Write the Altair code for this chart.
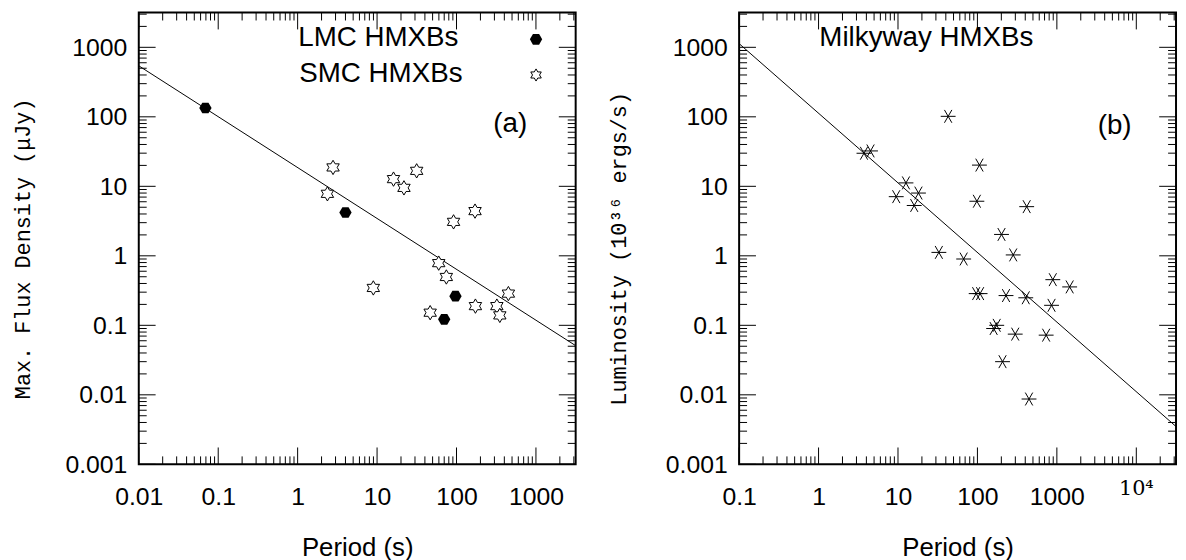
import math
import altair as alt
import pandas as pd

# ---------------- data ----------------
# panel (a)
lmc_period = [0.069, 4.0, 97.0, 70.0]
lmc_flux = [134.0, 4.2, 0.263, 0.122]
smc_period = [2.79, 2.37, 16.1, 21.8, 31.5, 91.8, 171.0, 59.7, 74.5, 8.97,
              46.6, 173.0, 322.0, 351.0, 450.0]
smc_flux = [18.7, 7.8, 12.7, 9.5, 16.7, 3.08, 4.4, 0.785, 0.496, 0.345,
            0.152, 0.189, 0.189, 0.139, 0.286]
fit_a_period = [0.01, 3162.3]
fit_a_flux = [542.0, 0.051]

# panel (b)
mw_period = [3.73, 4.51, 9.5, 12.6, 16.0, 18.1, 42.8, 106.0, 98.4, 417.0,
             201.0, 32.7, 67.1, 282.0, 889.0, 1449.0, 96.4, 108.0, 229.0, 406.0,
             857.0, 160.0, 175.0, 299.0, 733.0, 207.0, 446.0]
mw_lum = [29.9, 32.3, 7.1, 11.2, 5.3, 8.0, 101.6, 20.2, 6.1, 5.1,
          2.03, 1.12, 0.90, 1.03, 0.454, 0.357, 0.286, 0.286, 0.268, 0.249,
          0.194, 0.090, 0.100, 0.0747, 0.0722, 0.030, 0.0087]
fit_b_period = [0.1, 31622.8]
fit_b_lum = [1130.0, 0.0035]

# axes
x_labels_a = [0.01, 0.1, 1, 10, 100, 1000]
x_labels_b = [0.1, 1, 10, 100, 1000]
x_label_b_power = [10000]
y_labels = [0.001, 0.01, 0.1, 1, 10, 100, 1000]
x_domain_a = [0.01, 3162.3]
x_domain_b = [0.1, 31622.8]
y_domain = [0.001, 3162.3]

legend_names = ["LMC HMXBs", "SMC HMXBs"]
panel_tags = ["(a)", "(b)"]
mw_name = ["Milkyway HMXBs"]

# ---------------- styling ----------------
W, H = 441, 456
MAJ, MINR = 17, 8
SANS = "Liberation Sans"
TT = "Liberation Mono"
LABEL_SIZE = 25
TEXT_SIZE = 28

HEX = "M-1,0L-0.5,-0.866L0.5,-0.866L1,0L0.5,0.866L-0.5,0.866Z"
pts = []
for k in range(12):
    ang = math.radians(-90 + 30 * k)
    r = 1.0 if k % 2 == 0 else 1 / math.sqrt(3)
    pts.append((r * math.cos(ang), r * math.sin(ang)))
STAR = "M" + "L".join(f"{x:.3f},{y:.3f}" for x, y in pts) + "Z"
AST = "M-1,0L1,0M-0.5,-0.866L0.5,0.866M-0.5,0.866L0.5,-0.866"


def decade_ticks(lo, hi):
    majors, minors = [], []
    e = round(math.log10(lo))
    while 10.0 ** e <= hi * 1.0001:
        majors.append(10.0 ** e)
        for m in range(2, 10):
            v = m * 10.0 ** e
            if v <= hi * 1.0001:
                minors.append(v)
        e += 1
    return majors, minors


def x_axis(values):
    return alt.Axis(values=values, format="~g", labelFont=SANS, labelFontSize=LABEL_SIZE,
                    labelColor="black", ticks=False, tickSize=0, domain=False, grid=False,
                    labelPadding=33, labelBaseline="middle", labelFlush=False,
                    labelOverlap=False, title="Period (s)", titleFont=SANS,
                    titleFontSize=26, titleFontWeight="normal", titleColor="black",
                    titleY=84, titleBaseline="middle")


def y_axis(title, tx):
    return alt.Axis(values=y_labels, format="~g", labelFont=SANS, labelFontSize=LABEL_SIZE,
                    labelColor="black", ticks=False, tickSize=0, domain=False, grid=False,
                    labelPadding=12, labelFlush=False, labelOverlap=False,
                    title=title, titleFont=TT, titleFontSize=22, titleFontWeight="normal",
                    titleColor="black", titleX=tx, titleY=238, titleBaseline="middle")


def tick_layers(xdom, ydom, xscale, yscale, xa, ya):
    xmaj, xmin = decade_ticks(*xdom)
    ymaj, ymin = decade_ticks(*ydom)
    layers = []
    for vals, L in ((xmaj, MAJ), (xmin, MINR)):
        src = alt.Chart(pd.DataFrame({"period": vals})).mark_rule(color="black", strokeWidth=1)
        xe = alt.X("period:Q", scale=xscale, axis=xa)
        layers.append(src.encode(x=xe, y=alt.value(H), y2=alt.value(H - L)))
        layers.append(src.encode(x=xe, y=alt.value(0), y2=alt.value(L)))
    for vals, L in ((ymaj, MAJ), (ymin, MINR)):
        src = alt.Chart(pd.DataFrame({"val": vals})).mark_rule(color="black", strokeWidth=1)
        ye = alt.Y("val:Q", scale=yscale, axis=ya)
        layers.append(src.encode(y=ye, x=alt.value(0), x2=alt.value(L)))
        layers.append(src.encode(y=ye, x=alt.value(W), x2=alt.value(W - L)))
    return layers


def text_mark(s, x, y, align="left", baseline="alphabetic", size=TEXT_SIZE):
    return alt.Chart(pd.DataFrame({"t": [s]})).mark_text(
        font=SANS, fontSize=size, align=align, baseline=baseline, color="black"
    ).encode(text="t:N", x=alt.value(x), y=alt.value(y))


# ---------------- panel (a) ----------------
xs_a = alt.Scale(type="log", domain=x_domain_a, nice=False)
ys = alt.Scale(type="log", domain=y_domain, nice=False)
xa_a = x_axis(x_labels_a)
ya_a = y_axis("Max. Flux Density (μJy)", -117.5)

def enc_a():
    return dict(x=alt.X("period:Q", scale=xs_a, axis=xa_a),
                y=alt.Y("val:Q", scale=ys, axis=ya_a))

fit_a = alt.Chart(pd.DataFrame({"period": fit_a_period, "val": fit_a_flux})).mark_line(
    color="black", strokeWidth=1, clip=True
).encode(**enc_a())
lmc = alt.Chart(pd.DataFrame({"period": lmc_period, "val": lmc_flux})).mark_point(
    shape=HEX, size=155, filled=True, color="black", opacity=1
).encode(**enc_a())
smc = alt.Chart(pd.DataFrame({"period": smc_period, "val": smc_flux})).mark_point(
    shape=STAR, size=210, filled=True, fill="white", stroke="black", strokeWidth=1, opacity=1
).encode(**enc_a())

leg_lmc = alt.Chart(pd.DataFrame({"t": [legend_names[0]]})).mark_point(
    shape=HEX, size=155, filled=True, color="black", opacity=1
).encode(x=alt.value(401), y=alt.value(27))
leg_smc = alt.Chart(pd.DataFrame({"t": [legend_names[1]]})).mark_point(
    shape=STAR, size=150, filled=True, fill="white", stroke="black", strokeWidth=1, opacity=1
).encode(x=alt.value(401), y=alt.value(63))

panel_a = alt.layer(
    fit_a, *tick_layers(x_domain_a, y_domain, xs_a, ys, xa_a, ya_a), smc, lmc, leg_lmc, leg_smc,
    text_mark(legend_names[0], 161, 34),
    text_mark(legend_names[1], 162, 70),
    text_mark(panel_tags[0], 375, 113, align="center", baseline="middle"),
).properties(width=W, height=H)

# ---------------- panel (b) ----------------
xs_b = alt.Scale(type="log", domain=x_domain_b, nice=False)
xa_b = x_axis(x_labels_b)
ya_b = y_axis("Luminosity (10³⁶ ergs/s)", -122)

def enc_b():
    return dict(x=alt.X("period:Q", scale=xs_b, axis=xa_b),
                y=alt.Y("val:Q", scale=ys, axis=ya_b))

fit_b = alt.Chart(pd.DataFrame({"period": fit_b_period, "val": fit_b_lum})).mark_line(
    color="black", strokeWidth=1, clip=True
).encode(**enc_b())
mw = alt.Chart(pd.DataFrame({"period": mw_period, "val": mw_lum})).mark_point(
    shape=AST, size=225, filled=False, stroke="black", strokeWidth=1, opacity=1
).encode(**enc_b())

power_label = alt.Chart(pd.DataFrame({"period": x_label_b_power, "t": ["10⁴"]})).mark_text(
    font="DejaVu Serif", fontSize=21, align="center", baseline="middle", color="black"
).encode(x=alt.X("period:Q", scale=xs_b, axis=xa_b), y=alt.value(H + 25), text="t:N")

panel_b = alt.layer(
    fit_b, *tick_layers(x_domain_b, y_domain, xs_b, ys, xa_b, ya_b), mw, power_label,
    text_mark(mw_name[0], 81, 34),
    text_mark(panel_tags[1], 379, 115, align="center", baseline="middle"),
).properties(width=W, height=H)

chart = alt.hconcat(panel_a, panel_b, spacing=165, bounds="flush").properties(
    padding={"left": 2, "top": 0, "right": 0, "bottom": 0}, background="white"
).configure_view(stroke="black", strokeWidth=2)

chart.save("out.html", embed_options={"renderer": "svg", "actions": False})
